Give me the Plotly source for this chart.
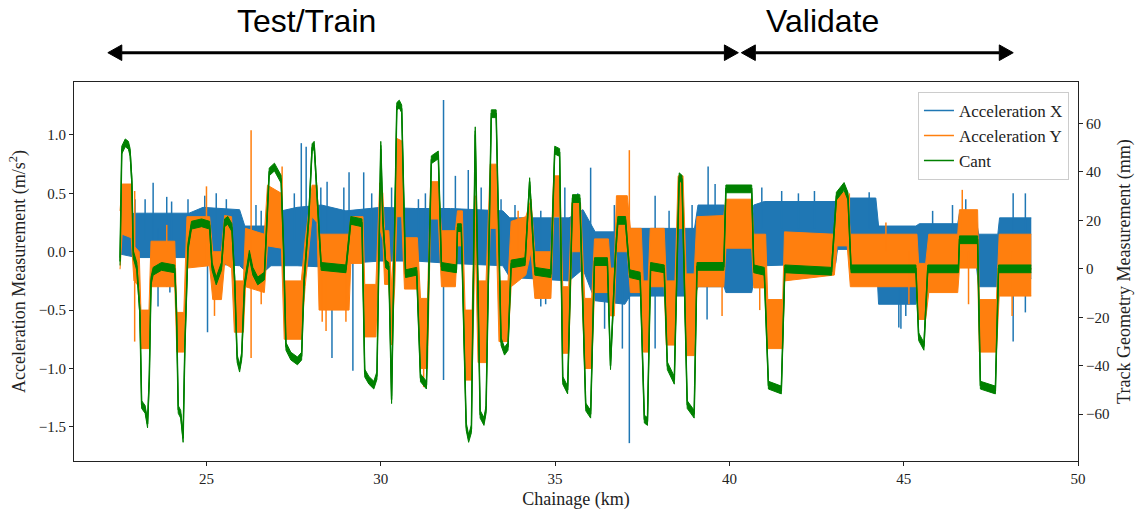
import plotly.graph_objects as go

# ---------------- data ----------------
# Cant (track geometry, mm) - centre line of the green trace
cant_km = [22.52, 22.57, 22.67, 22.76, 22.81, 22.86, 22.90, 23.00, 23.09, 23.14,
           23.24, 23.31, 23.36, 23.41, 23.47, 23.71, 24.09, 24.14, 24.19, 24.26,
           24.33, 24.38, 24.47, 24.57, 24.86, 25.09, 25.16, 25.28, 25.43, 25.52,
           25.61, 25.73, 25.81, 25.88, 25.95, 26.01, 26.09, 26.23, 26.33, 26.47,
           26.66, 26.74, 26.80, 26.95, 27.14, 27.21, 27.28, 27.42, 27.61, 27.73,
           27.80, 27.93, 28.03, 28.09, 28.17, 28.29, 29.00, 29.14, 29.46, 29.54,
           29.66, 29.80, 29.89, 30.00, 30.06, 30.14, 30.23, 30.31, 30.46, 30.53,
           30.60, 30.71, 31.03, 31.14, 31.31, 31.45, 31.65, 31.74, 32.17, 32.20,
           32.31, 32.45, 32.52, 32.60, 32.71, 32.85, 32.96, 33.02, 33.17, 33.31,
           33.45, 33.55, 33.65, 33.74, 34.14, 34.27, 34.42, 34.88, 34.99, 35.13,
           35.22, 35.36, 35.50, 35.71, 35.88, 36.02, 36.13, 36.50, 36.59, 36.73,
           36.80, 37.02, 37.14, 37.44, 37.56, 37.65, 37.74, 38.13, 38.22, 38.42,
           38.56, 38.64, 38.79, 38.99, 39.07, 39.84, 39.90, 40.64, 40.70, 41.00,
           41.12, 41.49, 41.59, 42.93, 43.07, 43.29, 43.40, 43.49, 45.35, 45.43,
           45.58, 45.69, 46.57, 46.60, 47.12, 47.20, 47.63, 47.72, 48.66]
cant_mm = [3, 49, 52, 51, 48, 36, 6, 1, -18, -56,
           -58, -64, -45, -5, -1, 1, 0, -18, -58, -60,
           -70, -32, 9, 18, 19, 18, 1, -5, 1, 19,
           20, 17, -5, -37, -41, -36, -7, 6, -1, -5,
           -3, 22, 40, 42, 37, 9, -32, -36, -38, -36,
           -5, 20, 50, 51, 30, 1, 0, 20, 19, -43,
           -46, -48, -44, 51, 20, 2, 1, -54, 67, 68,
           66, -2, -1, -45, -48, 45, 47, 1, 0, 17,
           17, -65, -70, -66, 57, -60, -63, -58, 64, 64,
           -30, -34, -32, 2, 3, 36, -1, -2, 49, 48,
           -46, -50, 29, 29, -57, -60, 3, 3, -40, 5,
           20, 20, -2, -3, -62, -63, 1, 0, -40, -46,
           38, 37, -56, -60, 1, 1, 33, 33, 0, -1,
           -48, -50, 0, -1, 30, 34, 30, 0, 0, -28,
           -32, 0, 0, 12, 12, -48, -50, 0, 0]
cant_noise_mm = 1.6

# Acceleration Y (orange) - upper / lower extent of the dense noisy band
acc_y_km = [22.52, 22.58, 22.84, 22.92, 23.07, 23.12, 23.35, 23.41,
            24.09, 24.15, 24.35, 24.44, 25.09, 25.18, 25.43, 25.52,
            25.72, 25.80, 26.06, 26.12, 26.66, 26.75, 27.15, 27.23,
            27.72, 27.83, 28.03, 28.17, 28.23, 29.09, 29.14, 29.49,
            29.54, 29.86, 29.97, 30.06, 30.11, 30.23, 30.31, 30.40,
            30.46, 30.60, 30.68, 31.05, 31.14, 31.34, 31.43, 31.65,
            31.74, 32.14, 32.20, 32.34, 32.42, 32.62, 32.71, 32.79,
            33.02, 33.14, 33.31, 33.39, 33.65, 33.74, 34.16, 34.31,
            34.42, 34.88, 34.96, 35.13, 35.22, 35.39, 35.48, 35.73,
            35.85, 36.05, 36.13, 36.53, 36.59, 36.70, 36.76, 37.07,
            37.16, 37.47, 37.53, 37.67, 37.73, 38.13, 38.19, 38.44,
            38.53, 38.67, 38.76, 38.99, 39.07, 39.84, 39.90, 40.64,
            40.70, 41.04, 41.10, 41.53, 41.58, 43.01, 43.09, 43.38,
            43.47, 45.38, 45.43, 45.63, 45.72, 46.55, 46.60, 47.12,
            47.17, 47.66, 47.74, 48.66]
acc_y_hi = [0.35, 0.58, 0.58, 0.05, 0.00, -0.50, -0.50, 0.09,
            0.09, -0.52, -0.52, 0.30, 0.30, 0.00, 0.00, 0.31,
            0.30, -0.25, -0.25, 0.20, 0.15, 0.57, 0.50, -0.25,
            -0.25, 0.10, 0.57, 0.57, 0.15, 0.15, 0.30, 0.30,
            -0.28, -0.28, 0.59, 0.50, 0.18, 0.18, -0.30, 0.20,
            0.97, 0.95, 0.12, 0.12, -0.40, -0.40, 0.60, 0.60,
            0.18, 0.18, 0.35, 0.35, -0.50, -0.50, 0.48, -0.25,
            -0.25, 0.75, 0.75, -0.25, -0.25, 0.26, 0.30, 0.45,
            0.00, 0.00, 0.65, 0.65, -0.30, -0.30, 0.42, 0.42,
            -0.40, -0.40, 0.11, 0.11, -0.14, -0.14, 0.48, 0.48,
            0.20, 0.20, -0.25, -0.25, 0.20, 0.20, -0.25, -0.25,
            0.65, 0.65, -0.19, -0.19, 0.30, 0.31, 0.45, 0.45,
            0.15, 0.15, -0.41, -0.41, 0.17, 0.15, 0.51, 0.51,
            0.15, 0.15, -0.10, -0.10, 0.15, 0.15, 0.36, 0.36,
            -0.41, -0.41, 0.15, 0.15]
acc_y_lo = [-0.15, 0.15, 0.12, -0.25, -0.30, -0.83, -0.83, -0.30,
            -0.30, -0.86, -0.86, -0.14, -0.12, -0.41, -0.41, -0.10,
            -0.14, -0.69, -0.69, -0.30, -0.35, 0.05, 0.03, -0.75,
            -0.75, -0.30, 0.30, 0.25, -0.50, -0.50, -0.10, -0.10,
            -0.73, -0.73, 0.20, 0.10, -0.28, -0.28, -0.80, -0.30,
            0.30, 0.30, -0.32, -0.32, -1.00, -1.00, 0.28, 0.28,
            -0.30, -0.30, 0.05, 0.05, -1.10, -1.10, 0.10, -0.95,
            -0.95, 0.20, 0.20, -0.77, -0.77, -0.30, -0.20, 0.00,
            -0.40, -0.40, 0.30, 0.30, -0.87, -0.87, 0.00, 0.00,
            -1.00, -1.00, -0.35, -0.35, -0.55, -0.55, 0.00, 0.00,
            -0.35, -0.35, -0.86, -0.86, -0.30, -0.30, -0.80, -0.80,
            0.20, 0.20, -0.89, -0.89, -0.30, -0.30, 0.03, 0.03,
            -0.31, -0.31, -0.83, -0.83, -0.25, -0.20, 0.05, 0.05,
            -0.30, -0.30, -0.58, -0.58, -0.35, -0.35, -0.14, -0.14,
            -0.86, -0.86, -0.38, -0.38]

# Acceleration X (blue) - upper / lower extent of the dense noisy band
acc_x_km = [22.52, 23.00, 24.50, 24.90, 25.95, 26.10, 26.70, 26.85,
            27.60, 28.30, 29.00, 30.00, 31.00, 32.00, 33.50, 33.70,
            35.40, 35.80, 36.15, 37.00, 37.15, 39.00, 39.10, 39.85,
            39.90, 40.64, 40.70, 41.00, 43.05, 43.10, 44.20, 44.28,
            45.35, 45.45, 46.55, 46.60, 47.05, 47.15, 47.70, 47.75,
            48.66]
acc_x_hi = [0.32, 0.33, 0.33, 0.38, 0.36, 0.22, 0.22, 0.33,
            0.38, 0.40, 0.35, 0.38, 0.37, 0.37, 0.35, 0.29,
            0.29, 0.36, 0.17, 0.17, 0.20, 0.20, 0.40, 0.40,
            0.20, 0.20, 0.40, 0.43, 0.43, 0.46, 0.46, 0.22,
            0.22, 0.24, 0.24, 0.33, 0.33, 0.15, 0.15, 0.29,
            0.29]
acc_x_lo = [-0.02, -0.05, -0.05, -0.10, -0.12, -0.16, -0.16, -0.12,
            -0.12, -0.13, -0.10, -0.08, -0.08, -0.10, -0.12, -0.22,
            -0.25, -0.15, -0.42, -0.45, -0.38, -0.38, -0.30, -0.30,
            -0.35, -0.35, -0.25, -0.12, -0.10, 0.02, 0.02, -0.45,
            -0.45, -0.14, -0.14, -0.02, -0.02, -0.30, -0.30, -0.23,
            -0.23]

# isolated spikes poking out of the bands
acc_x_spike_km = [22.95, 23.24, 23.47, 23.61, 23.86, 23.95, 24.00, 24.47, 24.95, 25.03,
                  25.28, 25.57, 26.42, 26.57, 27.52, 27.72, 27.86, 28.28, 28.46, 28.60,
                  28.94, 29.09, 29.20, 29.51, 29.74, 30.31, 31.08, 31.28, 31.80, 32.14,
                  32.51, 32.88, 33.45, 33.85, 34.59, 34.73, 35.28, 35.65, 36.02, 36.42,
                  36.70, 36.93, 37.13, 37.87, 38.27, 38.93, 39.36, 39.39, 39.59, 40.93,
                  41.50, 41.98, 42.44, 44.01, 44.86, 44.92, 45.06, 45.83, 46.40, 46.78,
                  48.14, 48.49]
acc_x_spike_lo = [0.10, 0.10, 0.00, -0.47, -0.30, -0.35, 0.10, 0.10, 0.10, -0.69,
                  0.10, 0.10, 0.00, 0.00, 0.10, -0.10, -0.10, 0.10, 0.10, -0.91,
                  0.10, 0.00, -1.02, 0.00, 0.10, 0.10, 0.10, 0.10, -1.10, 0.10,
                  0.00, 0.10, 0.10, 0.00, -0.47, -0.45, 0.10, 0.10, 0.10, -0.66,
                  0.00, -0.83, -1.64, -0.83, 0.00, 0.00, -0.58, 0.00, 0.00, 0.20,
                  0.20, 0.20, 0.20, 0.20, -0.65, -0.66, -0.55, 0.00, 0.00, 0.00,
                  -0.77, -0.52]
acc_x_spike_hi = [0.45, 0.45, 0.59, 0.20, 0.47, 0.00, 0.43, 0.45, 0.48, 0.10,
                  0.50, 0.45, 0.40, 0.35, 0.50, 0.93, 0.90, 0.55, 0.60, 0.10,
                  0.55, 0.68, 0.10, 0.68, 0.50, 0.55, 0.45, 0.50, 1.30, 0.65,
                  0.70, 0.55, 0.45, 0.40, 0.35, 0.00, 0.55, 0.50, 0.72, 0.00,
                  0.40, 0.00, 0.20, 0.48, 0.35, 0.40, 0.00, 0.73, 0.58, 0.55,
                  0.52, 0.50, 0.52, 0.51, -0.20, -0.20, -0.20, 0.35, 0.40, 0.45,
                  0.50, 0.50]

acc_y_spike_km = [22.94, 23.86, 25.00, 25.23, 26.28, 26.57, 27.17, 28.32, 28.43, 29.00,
                  31.23, 33.94, 37.13, 39.79, 40.87, 43.44, 44.49, 45.15, 46.68, 46.86,
                  48.11]
acc_y_spike_lo = [-0.77, 0.00, -0.10, -0.55, -0.91, -0.45, 0.00, -0.60, -0.68, -0.60,
                  -1.16, 0.00, -0.20, -0.55, -0.50, 0.00, 0.00, -0.45, 0.00, -0.45,
                  -0.55]
acc_y_spike_hi = [0.52, 0.23, 0.56, 0.00, 1.04, 0.00, 0.73, 0.00, 0.00, 0.00,
                  -0.60, 0.35, 0.87, 0.00, 0.00, 0.50, 0.25, 0.00, 0.53, 0.00,
                  0.00]

x_ticks = [25, 30, 35, 40, 45, 50]
y_ticks = [-1.5, -1.0, -0.5, 0.0, 0.5, 1.0]
y2_ticks = [-60, -40, -20, 0, 20, 40, 60]

BLUE = "#1f77b4"
ORANGE = "#ff7f0e"
GREEN = "#008000"
SERIF = "Liberation Serif, Times New Roman, serif"
SANS = "Liberation Sans, Arial, sans-serif"


def fmt_minus(v, nd):
    return f"{v:.{nd}f}".replace("-", "\u2212")


def spikes(km, lo, hi):
    xs, ys = [], []
    for k, a, b in zip(km, lo, hi):
        xs += [k, k, None]
        ys += [a, b, None]
    return xs, ys


fig = go.Figure()

# ---- Acceleration X ----
fig.add_trace(go.Scatter(x=acc_x_km, y=acc_x_lo, mode="lines",
                         line=dict(color=BLUE, width=1), showlegend=False,
                         hoverinfo="skip"))
fig.add_trace(go.Scatter(x=acc_x_km, y=acc_x_hi, mode="lines", fill="tonexty",
                         fillcolor=BLUE, line=dict(color=BLUE, width=1),
                         showlegend=False, hoverinfo="skip"))
sx, sy = spikes(acc_x_spike_km, acc_x_spike_lo, acc_x_spike_hi)
fig.add_trace(go.Scatter(x=sx, y=sy, mode="lines", name="Acceleration X",
                         line=dict(color=BLUE, width=1.5)))

# ---- Acceleration Y ----
fig.add_trace(go.Scatter(x=acc_y_km, y=acc_y_lo, mode="lines",
                         line=dict(color=ORANGE, width=1), showlegend=False,
                         hoverinfo="skip"))
fig.add_trace(go.Scatter(x=acc_y_km, y=acc_y_hi, mode="lines", fill="tonexty",
                         fillcolor=ORANGE, line=dict(color=ORANGE, width=1),
                         showlegend=False, hoverinfo="skip"))
sx, sy = spikes(acc_y_spike_km, acc_y_spike_lo, acc_y_spike_hi)
fig.add_trace(go.Scatter(x=sx, y=sy, mode="lines", name="Acceleration Y",
                         line=dict(color=ORANGE, width=1.5)))

# ---- Cant (secondary axis) ----
cant_lo = [v - cant_noise_mm for v in cant_mm]
cant_hi = [v + cant_noise_mm for v in cant_mm]
fig.add_trace(go.Scatter(x=cant_km, y=cant_lo, mode="lines", yaxis="y2",
                         line=dict(color=GREEN, width=1), showlegend=False,
                         hoverinfo="skip"))
fig.add_trace(go.Scatter(x=cant_km, y=cant_hi, mode="lines", yaxis="y2",
                         fill="tonexty", fillcolor=GREEN,
                         line=dict(color=GREEN, width=1), showlegend=False,
                         hoverinfo="skip"))
fig.add_trace(go.Scatter(x=cant_km, y=cant_mm, mode="lines", yaxis="y2",
                         name="Cant", line=dict(color=GREEN, width=1.5)))

axis_common = dict(showgrid=False, zeroline=False, showline=True,
                   linecolor="#222222", linewidth=1, ticks="outside",
                   ticklen=4, tickwidth=1, tickcolor="#222222",
                   tickfont=dict(family=SERIF, size=15, color="#222222"))

fig.update_layout(
    width=1142, height=518,
    margin=dict(l=74, r=60, t=82, b=48),
    paper_bgcolor="white", plot_bgcolor="white",
    xaxis=dict(range=[21.2, 50.0], tickvals=x_ticks,
               ticktext=[str(v) for v in x_ticks], mirror=True,
               title=dict(text="Chainage (km)", standoff=6,
                          font=dict(family=SERIF, size=18, color="#222222")),
               **axis_common),
    yaxis=dict(range=[-1.793, 1.454], tickvals=y_ticks,
               ticktext=[fmt_minus(v, 1) for v in y_ticks], mirror=True,
               title=dict(text="Acceleration Measurement (m/s<sup>2</sup>)",
                          standoff=8,
                          font=dict(family=SERIF, size=18, color="#222222")),
               **axis_common),
    yaxis2=dict(range=[-79.3, 77.1], tickvals=y2_ticks,
                ticktext=[fmt_minus(v, 0) for v in y2_ticks],
                overlaying="y", side="right",
                title=dict(text="Track Geometry Measurement (mm)", standoff=8,
                           font=dict(family=SERIF, size=18, color="#222222")),
                **axis_common),
    legend=dict(x=0.991, y=0.974, xanchor="right", yanchor="top",
                traceorder="normal",
                bgcolor="rgba(255,255,255,0.85)", bordercolor="#cccccc",
                borderwidth=1, font=dict(family=SERIF, size=17, color="#222222"),
                tracegroupgap=0),
    showlegend=True,
)

# section labels above the plot
fig.add_annotation(text="Test/Train", xref="paper", yref="paper",
                   x=0.2312, y=1.160, xanchor="center", yanchor="middle",
                   showarrow=False, font=dict(family=SANS, size=32, color="black"))
fig.add_annotation(text="Validate", xref="paper", yref="paper",
                   x=0.7460, y=1.160, xanchor="center", yanchor="middle",
                   showarrow=False, font=dict(family=SANS, size=32, color="black"))

# double-headed arrows (layout decoration, paper coordinates)
YA, YT, YB = 1.0773, 1.0979, 1.0567
arrow_lines = [(0.0476, 0.6478), (0.6786, 0.9216)]
for x0, x1 in arrow_lines:
    fig.add_shape(type="line", xref="paper", yref="paper", x0=x0, x1=x1,
                  y0=YA, y1=YA, line=dict(color="black", width=3))
heads = [(0.0337, 0.0476), (0.6617, 0.6478), (0.6647, 0.6786), (0.9355, 0.9216)]
for tip, base in heads:
    fig.add_shape(type="path", xref="paper", yref="paper",
                  path=f"M {tip},{YA} L {base},{YT} L {base},{YB} Z",
                  fillcolor="black", line=dict(color="black", width=1))

fig.write_html("out.html")
